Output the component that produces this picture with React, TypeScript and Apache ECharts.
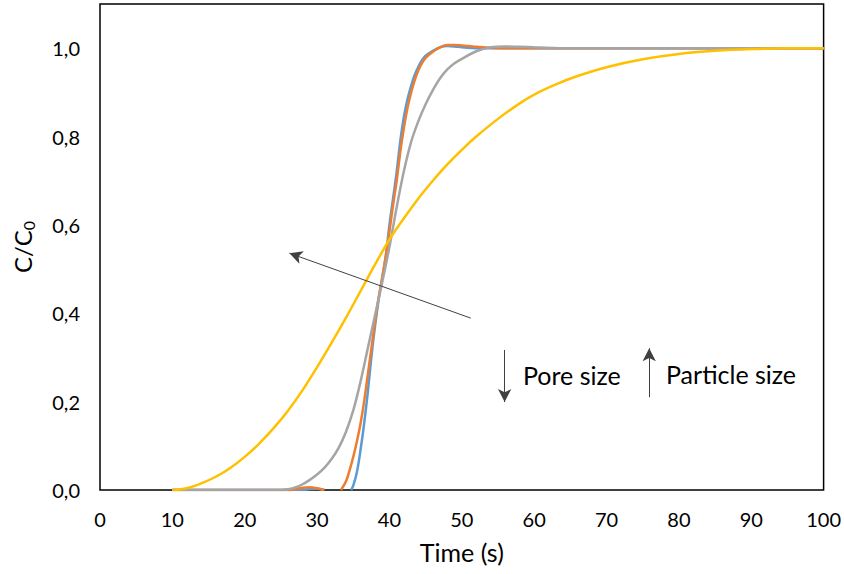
import React, { useEffect, useRef } from "react";
import * as echarts from "echarts";

const blueT = [10, 20, 26, 28, 29, 30, 31, 32, 34.7, 35, 35.5, 36, 36.5, 37, 37.5, 38, 38.5, 39, 39.5, 40, 40.5, 41, 41.5, 42, 42.5, 43, 43.5, 44, 44.5, 45, 46, 47, 48, 49, 50, 52, 60, 80, 100];
const blueY = [0, 0, 0, 0, 0.002, 0.003, 0, null, 0, 0.01, 0.04, 0.09, 0.15, 0.22, 0.3, 0.37, 0.43, 0.48, 0.53, 0.6, 0.66, 0.72, 0.79, 0.845, 0.885, 0.915, 0.94, 0.958, 0.973, 0.983, 0.994, 1.002, 1.005, 1.004, 1.002, 1.0, 1.0, 1.0, 1.0];

const orangeT = [10, 20, 26, 27, 28, 29, 30, 31, 32, 33.3, 34, 34.5, 35, 35.5, 36, 36.5, 37, 37.5, 38, 38.5, 39, 39.5, 40, 40.5, 41, 41.5, 42, 42.5, 43, 43.5, 44, 44.5, 45, 46, 47, 48, 49, 50, 51, 52, 54, 56, 60, 80, 100];
const orangeY = [0, 0, 0, 0.002, 0.005, 0.006, 0.004, 0, null, 0, 0.02, 0.045, 0.075, 0.11, 0.15, 0.2, 0.26, 0.32, 0.38, 0.435, 0.48, 0.53, 0.585, 0.645, 0.7, 0.765, 0.82, 0.865, 0.9, 0.928, 0.95, 0.966, 0.978, 0.992, 1.002, 1.007, 1.007, 1.006, 1.005, 1.003, 1.001, 1.0, 1.0, 1.0, 1.0];

const grayT = [10, 15, 20, 25, 26, 27, 28, 29, 30, 31, 32, 33, 34, 35, 36, 37, 38, 39, 40, 41, 42, 43, 44, 45, 46, 47, 48, 49, 50, 52, 54, 56, 58, 60, 65, 80, 100];
const grayY = [0, 0, 0, 0, 0.002, 0.006, 0.013, 0.023, 0.035, 0.05, 0.07, 0.096, 0.132, 0.18, 0.245, 0.32, 0.395, 0.47, 0.55, 0.64, 0.722, 0.788, 0.835, 0.873, 0.905, 0.932, 0.952, 0.966, 0.976, 0.993, 1.002, 1.004, 1.003, 1.002, 1.0, 1.0, 1.0];

const yellowT = [10, 12, 14, 16, 18, 20, 22, 24, 26, 28, 30, 32, 34, 36, 38, 40, 42, 44, 46, 48, 50, 52, 55, 58, 60, 63, 66, 70, 75, 80, 85, 90, 95, 100];
const yellowY = [0, 0.004, 0.015, 0.03, 0.05, 0.075, 0.105, 0.14, 0.18, 0.226, 0.278, 0.333, 0.39, 0.45, 0.51, 0.567, 0.615, 0.66, 0.7, 0.737, 0.77, 0.8, 0.84, 0.875, 0.895, 0.918, 0.937, 0.957, 0.975, 0.987, 0.994, 0.998, 1.0, 1.0];

const xTicks = [0, 10, 20, 30, 40, 50, 60, 70, 80, 90, 100];
const yTicks = ["0,0", "0,2", "0,4", "0,6", "0,8", "1,0"];

const FONT = "Lato";

function pairs(t: number[], y: (number | null)[]) {
  return t.map((v, i) => [v, y[i]]);
}

export default function App() {
  const ref = useRef<HTMLDivElement>(null);
  useEffect(() => {
    if (!ref.current) return;
    const chart = echarts.init(ref.current, null, { renderer: "svg" });
    const arrowStyle = { color: "#404040", width: 1, type: "solid" as const };
    const lineCommon = { type: "line", showSymbol: false, smooth: 0.35, connectNulls: false };
    chart.setOption({
      animation: false,
      backgroundColor: "#fff",
      grid: { left: 100, right: 18, top: 4, bottom: 84, show: true, borderColor: "#000", borderWidth: 1.5 },
      xAxis: {
        type: "value",
        min: xTicks[0],
        max: xTicks[xTicks.length - 1],
        interval: 10,
        name: "Time (s)",
        nameLocation: "middle",
        nameGap: 49,
        nameTextStyle: { fontFamily: FONT, fontSize: 25, color: "#000" },
        axisLine: { show: false },
        axisTick: { show: false },
        splitLine: { show: false },
        axisLabel: { fontFamily: FONT, fontSize: 20, color: "#000", margin: 19 },
      },
      yAxis: {
        type: "value",
        min: 0,
        max: 1.1,
        interval: 0.2,
        name: "{a|C/C}{b|0}",
        nameLocation: "middle",
        nameGap: 64,
        nameRotate: 90,
        nameTextStyle: {
          fontFamily: FONT,
          color: "#000",
          rich: {
            a: { fontFamily: FONT, fontSize: 24, color: "#000" },
            b: { fontFamily: FONT, fontSize: 16, color: "#000", padding: [12, 0, 0, 0] },
          },
        },
        axisLine: { show: false },
        axisTick: { show: false },
        splitLine: { show: false },
        axisLabel: {
          fontFamily: FONT,
          fontSize: 20,
          color: "#000",
          margin: 20,
          showMaxLabel: false,
          formatter: (v: number) => {
            const i = Math.round(v / 0.2);
            return yTicks[i] ?? "";
          },
        },
      },
      series: [
        { ...lineCommon, data: pairs(blueT, blueY), lineStyle: { color: "#5B9BD5", width: 2.5 }, itemStyle: { color: "#5B9BD5" } },
        { ...lineCommon, data: pairs(orangeT, orangeY), lineStyle: { color: "#ED7D31", width: 2.5 }, itemStyle: { color: "#ED7D31" } },
        { ...lineCommon, data: pairs(grayT, grayY), lineStyle: { color: "#A5A5A5", width: 2.5 }, itemStyle: { color: "#A5A5A5" } },
        {
          ...lineCommon,
          data: pairs(yellowT, yellowY),
          lineStyle: { color: "#FFC000", width: 2.5 },
          itemStyle: { color: "#FFC000" },
          markLine: {
            silent: true,
            symbol: ["none", "arrow"],
            symbolSize: [10, 13],
            label: { show: false },
            lineStyle: arrowStyle,
            emphasis: { disabled: true },
            data: [
              [{ coord: [51.24, 0.389] }, { coord: [26.17, 0.536] }],
              [{ coord: [55.92, 0.317] }, { coord: [55.92, 0.199] }],
              [{ coord: [75.9, 0.21] }, { coord: [75.9, 0.321] }],
            ],
          },
        },
      ],
      graphic: [
        { type: "text", left: 523, top: 362, style: { text: "Pore size", fontFamily: FONT, fontSize: 25, fill: "#000" } },
        { type: "text", left: 666, top: 361, style: { text: "Particle size", fontFamily: FONT, fontSize: 25, fill: "#000" } },
      ],
    });
    return () => chart.dispose();
  }, []);
  return <div ref={ref} style={{ position: "fixed", left: 0, top: 0, width: 844, height: 574, background: "#fff" }} />;
}
